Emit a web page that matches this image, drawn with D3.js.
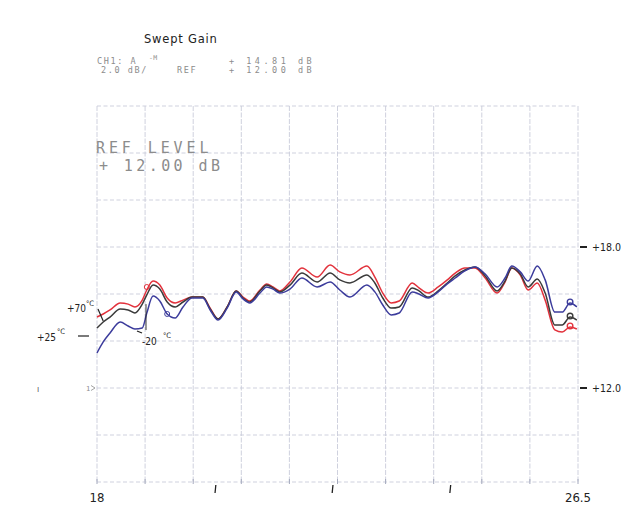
<!DOCTYPE html>
<html>
<head>
<meta charset="utf-8">
<script src="https://cdn.jsdelivr.net/npm/d3@7"></script>
<style>
  html, body { margin: 0; padding: 0; background: #fff; }
  svg { display: block; }
</style>
</head>
<body>
<div id="chart"></div>
<script>
/* Swept gain plot, three temperatures (scanned HP plotter output) */

const W = 625, H = 507;

// frequency axis (GHz) shared by all traces
const freq = [18.00, 18.11, 18.23, 18.41, 18.55, 18.67, 18.80, 18.88, 18.99, 19.11,
  19.24, 19.38, 19.52, 19.68, 19.87, 20.00, 20.14, 20.30, 20.46, 20.58,
  20.70, 20.88, 21.00, 21.11, 21.23, 21.41, 21.62, 21.89, 22.12, 22.29,
  22.47, 22.77, 22.91, 23.05, 23.20, 23.34, 23.57, 23.69, 23.85, 24.03,
  24.19, 24.33, 24.50, 24.68, 24.86, 25.07, 25.21, 25.33, 25.48, 25.62,
  25.78, 25.92, 26.09, 26.22, 26.36, 26.48];

// gain (dB)
const gainHot = [15.02, 15.15, 15.32, 15.62, 15.57, 15.45, 15.74, 16.17, 16.55, 16.38,
  15.83, 15.62, 15.74, 15.87, 15.87, 15.40, 14.94, 15.45, 16.13, 15.87,
  15.70, 16.17, 16.43, 16.30, 16.13, 16.51, 17.11, 16.72, 17.23, 16.94,
  16.81, 17.19, 16.72, 16.04, 15.62, 15.70, 16.47, 16.26, 16.04, 16.30,
  16.60, 16.89, 17.11, 17.11, 16.68, 16.04, 16.51, 17.11, 16.81, 16.17,
  16.47, 15.74, 14.47, 14.38, 14.60, 14.51];
const gainRoom = [14.55, 14.81, 15.02, 15.36, 15.32, 15.19, 15.57, 15.96, 16.38, 16.21,
  15.66, 15.45, 15.66, 15.87, 15.87, 15.36, 14.94, 15.45, 16.13, 15.83,
  15.66, 16.13, 16.38, 16.26, 16.09, 16.38, 16.89, 16.51, 16.89, 16.60,
  16.47, 16.81, 16.47, 15.83, 15.40, 15.45, 16.26, 16.13, 15.87, 16.13,
  16.47, 16.77, 17.02, 17.15, 16.77, 16.13, 16.55, 17.11, 16.85, 16.30,
  16.64, 16.04, 14.68, 14.68, 15.02, 14.89];
const gainCold = [13.49, 13.96, 14.34, 14.81, 14.64, 14.51, 14.55, 15.19, 15.91, 15.70,
  15.15, 14.98, 15.45, 15.83, 15.83, 15.32, 14.89, 15.40, 16.09, 15.79,
  15.62, 16.04, 16.30, 16.21, 16.04, 16.21, 16.68, 16.30, 16.51, 16.17,
  15.87, 16.38, 16.09, 15.53, 15.11, 15.19, 16.09, 16.00, 15.83, 16.09,
  16.43, 16.68, 16.98, 17.15, 16.85, 16.30, 16.68, 17.19, 16.94, 16.55,
  17.19, 16.60, 15.23, 15.23, 15.62, 15.45];

const yGridVals = [8, 10, 12, 14, 16, 18, 20, 22, 24];
const rightLabels = [{ v: 18, t: "+18.0" }, { v: 12, t: "+12.0" }];
const bottomLabels = [{ f: 18, t: "18" }, { f: 26.5, t: "26.5" }];
const handTicks = [20.1, 22.17, 24.25];

const traces = [
  { name: "+70°C", vals: gainHot, color: "#e2323c" },
  { name: "+25°C", vals: gainRoom, color: "#3a3a3a" },
  { name: "-20°C", vals: gainCold, color: "#3c3c9c" },
];

const svg = d3.select("#chart").append("svg").attr("width", W).attr("height", H);

const x = d3.scaleLinear().domain([18, 26.5]).range([97, 578]);
const y = d3.scaleLinear().domain([8, 24]).range([482, 106]);

const GRID = "#c9ccda";
const DOT = "#8c8c8c";
const HAND = "#222";

// --- grid: 10 vertical divisions, 2 dB/div horizontal --------------------
const xGridVals = d3.range(11).map(i => 18 + i * 0.85);
const grid = svg.append("g");
grid.selectAll("line.v").data(xGridVals).join("line")
  .attr("x1", d => x(d)).attr("x2", d => x(d))
  .attr("y1", y(24)).attr("y2", y(8))
  .attr("stroke", GRID).attr("stroke-width", 0.9)
  .attr("stroke-dasharray", "5 1.5");
grid.selectAll("line.h").data(yGridVals).join("line")
  .attr("x1", x(18)).attr("x2", x(26.5))
  .attr("y1", d => y(d)).attr("y2", d => y(d))
  .attr("stroke", GRID).attr("stroke-width", 0.9)
  .attr("stroke-dasharray", "4 2.5");
// little plotter ticks along the bottom edge
grid.selectAll("line.t").data(xGridVals).join("line")
  .attr("x1", d => x(d)).attr("x2", d => x(d))
  .attr("y1", y(8) - 3).attr("y2", y(8) + 2)
  .attr("stroke", "#a4a9bd").attr("stroke-width", 1);

// --- header (dot-matrix text) ---------------------------------------------
svg.append("text").attr("x", 144).attr("y", 43)
  .attr("font-family", "DejaVu Sans").attr("font-size", 11.5)
  .attr("letter-spacing", 0.8).attr("fill", HAND).text("Swept  Gain");

const mono = (t, xx, yy, fs, ls) => svg.append("text").attr("x", xx).attr("y", yy)
  .attr("font-family", "DejaVu Sans Mono").attr("font-size", fs)
  .attr("letter-spacing", ls).attr("fill", DOT).text(t);
mono("CH1: A", 97, 64, 8.5, 1.6);
mono("-M", 149, 60, 6.5, 0.4);
mono("+ 14.81 dB", 229, 64, 8.5, 3.5);
mono("2.0 dB/", 101, 73, 8.5, 1.6);
mono("REF", 177, 73, 8.5, 1.6);
mono("+ 12.00 dB", 229, 73, 8.5, 3.5);

mono("REF LEVEL", 96, 153, 15, 3.9);
mono("+ 12.00 dB", 99, 171, 15, 3.4);

// --- traces ----------------------------------------------------------------
const line = d3.line()
  .x((d, i) => x(freq[i]))
  .y(d => y(d))
  .curve(d3.curveMonotoneX);

const tg = svg.append("g");
traces.forEach(tr => {
  tg.append("path").datum(tr.vals)
    .attr("d", line)
    .attr("fill", "none")
    .attr("stroke", tr.color)
    .attr("stroke-width", 1.5)
    .attr("stroke-linejoin", "round");
  // end marker blobs
  const n = tr.vals.length;
  tg.append("circle")
    .attr("cx", x(freq[n - 2])).attr("cy", y(tr.vals[n - 2]) - 1)
    .attr("r", 2.8).attr("fill", "none")
    .attr("stroke", tr.color).attr("stroke-width", 1.4);
});

// marker blobs near 18.9 GHz
[[0, 7, -3], [2, 10, 0]].forEach(([ti, k, dy]) => {
  tg.append("circle")
    .attr("cx", x(freq[k])).attr("cy", y(traces[ti].vals[k]) + dy)
    .attr("r", 2.5).attr("fill", "none")
    .attr("stroke", traces[ti].color).attr("stroke-width", 1);
});

// --- handwritten annotations --------------------------------------------------
const hand = (t, xx, yy, fs, anchor) => svg.append("text").attr("x", xx).attr("y", yy)
  .attr("font-family", "DejaVu Sans Condensed, DejaVu Sans").attr("font-size", fs || 9)
  .attr("text-anchor", anchor || "start").attr("fill", HAND).text(t);

hand("+70", 67, 312, 10);
hand("°C", 86, 306, 7.5);
hand("+25", 37, 341, 10);
hand("°C", 57, 334, 7.5);
hand("-20", 142, 345, 10);
hand("°C", 163, 338, 7.5);

// leader strokes
const ann = svg.append("g").attr("stroke", HAND).attr("stroke-width", 1.2).attr("fill", "none");
ann.append("line").attr("x1", 98).attr("y1", 309).attr("x2", x(freq[1])).attr("y2", y(gainRoom[1]) - 1);
ann.append("line").attr("x1", 78).attr("y1", 336).attr("x2", 89).attr("y2", 336);
ann.append("path").attr("d", `M142,333 L137,${y(gainCold[5]) + 2}`);
ann.append("line").attr("x1", 146).attr("y1", y(gainCold[6]) + 2).attr("x2", 146).attr("y2", y(gainCold[8]) + 8)
  .attr("stroke-width", 0.9);

// right-hand level labels
rightLabels.forEach(d => {
  svg.append("line").attr("x1", x(26.5) + 2).attr("x2", x(26.5) + 9)
    .attr("y1", y(d.v)).attr("y2", y(d.v))
    .attr("stroke", HAND).attr("stroke-width", 2);
  hand(d.t, x(26.5) + 14, y(d.v) + 4, 10.5);
});

// bottom frequency labels
bottomLabels.forEach(d => {
  hand(d.t, x(d.f), 502, 13, "middle");
});

// handwritten frequency marks under the axis
handTicks.forEach(f => {
  svg.append("line").attr("x1", x(f)).attr("x2", x(f) - 0.8)
    .attr("y1", y(8) + 3).attr("y2", y(8) + 11)
    .attr("stroke", HAND).attr("stroke-width", 1.3);
});

// reference-position marker on the left edge
mono("1", 86, y(12) + 3, 7, 0);
svg.append("path").attr("d", `M${x(18) - 6},${y(12) - 2.5} L${x(18) - 2},${y(12)} L${x(18) - 6},${y(12) + 2.5}`)
  .attr("fill", "none").attr("stroke", DOT).attr("stroke-width", 0.8);
svg.append("text").attr("x", 37).attr("y", y(12) + 4)
  .attr("font-family", "DejaVu Sans").attr("font-size", 8).attr("fill", "#555").text("ı");
</script>
</body>
</html>
